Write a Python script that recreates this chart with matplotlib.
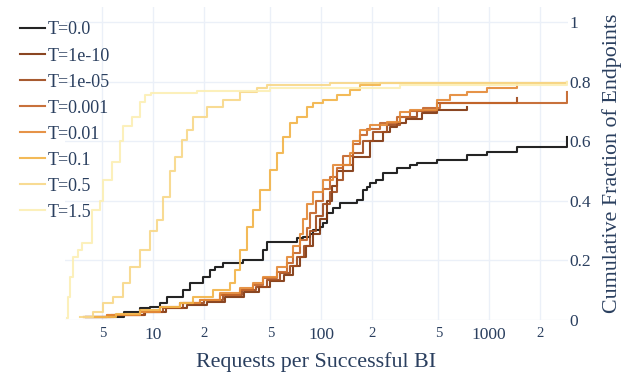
import matplotlib
matplotlib.use('Agg')
import matplotlib.pyplot as plt
from matplotlib.ticker import FixedLocator, FixedFormatter

plt.rcParams['font.family'] = ['Liberation Serif', 'DejaVu Serif']

TXT = '#2a3f5f'
GRID = '#ebf0f8'

labels = ['T=0.0', 'T=1e-10', 'T=1e-05', 'T=0.001', 'T=0.01', 'T=0.1', 'T=0.5', 'T=1.5']
colors = ['#111111', '#80360f', '#a04c1e', '#c4652a', '#e48a38', '#f2b44a', '#f8d88a', '#fcefb5']

x_t0 = [4.0, 6.7, 8.4, 9.6, 11.0, 12.1, 15.1, 16.6, 19.9, 21.8, 23.4, 26.2, 34.5, 45.4, 47.5,
        71.7, 78.5, 86, 90, 98.6, 103, 108, 118, 130, 163, 179, 187, 196, 214, 235, 282, 339,
        371, 489, 737, 969, 1462, 2900]
y_t0 = [0.011, 0.028, 0.039, 0.045, 0.056, 0.078, 0.10, 0.123, 0.145, 0.168, 0.179, 0.19, 0.20,
        0.235, 0.263, 0.274, 0.28, 0.29, 0.302, 0.313, 0.324, 0.358, 0.375, 0.392, 0.403, 0.436,
        0.447, 0.459, 0.47, 0.492, 0.509, 0.52, 0.526, 0.537, 0.554, 0.565, 0.582, 0.615]

x_t1e10 = [4.0, 5.9, 9.0, 12, 16, 21, 27, 35, 43, 50, 60, 68, 75, 82, 90, 98.6, 108, 116, 124,
           156, 196, 235, 258, 282, 320, 400, 489, 740]
y_t1e10 = [0.011, 0.017, 0.028, 0.04, 0.05, 0.062, 0.078, 0.095, 0.11, 0.13, 0.15, 0.18, 0.21,
           0.25, 0.29, 0.34, 0.40, 0.45, 0.50, 0.548, 0.60, 0.632, 0.649, 0.66, 0.676, 0.693,
           0.705, 0.716]

x_t1e5 = [4.0, 5.6, 8.8, 11.5, 15, 20, 26, 34, 41, 48, 57, 65, 72, 79, 86, 94, 103, 113, 124,
          136, 156, 179, 205, 246, 295, 371, 489, 1462]
y_t1e5 = [0.011, 0.017, 0.028, 0.04, 0.056, 0.067, 0.084, 0.10, 0.112, 0.134, 0.157, 0.18,
          0.21, 0.25, 0.30, 0.35, 0.39, 0.43, 0.47, 0.52, 0.56, 0.60, 0.63, 0.655, 0.68, 0.70,
          0.727, 0.745]

x_t1e3 = [3.9, 5.3, 8.4, 11.0, 14.5, 19.0, 25.0, 32.9, 39.5, 45.4, 54.5, 62.5, 68.4, 75.0,
          82.2, 86, 94, 103, 113, 124, 136, 156, 171, 187, 224, 282, 339, 407, 511, 2900]
y_t1e3 = [0.011, 0.017, 0.028, 0.045, 0.056, 0.067, 0.084, 0.10, 0.117, 0.14, 0.162, 0.19,
          0.224, 0.27, 0.31, 0.36, 0.40, 0.44, 0.48, 0.51, 0.55, 0.59, 0.62, 0.64, 0.66, 0.68,
          0.70, 0.71, 0.727, 0.766]

x_t1e2 = [3.9, 5.3, 8.4, 11.0, 14.5, 19.0, 25.0, 32.9, 39.5, 45.4, 54.5, 62.5, 68.4, 75.0,
          78.5, 82.2, 90.0, 103, 118, 149, 156, 171, 196, 246, 295, 339, 489, 586, 737, 969, 1462]
y_t1e2 = [0.011, 0.017, 0.028, 0.045, 0.056, 0.067, 0.089, 0.106, 0.123, 0.145, 0.179, 0.21,
          0.25, 0.29, 0.34, 0.39, 0.43, 0.47, 0.52, 0.56, 0.60, 0.638, 0.654, 0.665, 0.699,
          0.705, 0.738, 0.755, 0.766, 0.777, 0.794]

x_t1e1 = [3.9, 6.0, 8.4, 11.0, 14.5, 17.4, 22.9, 28.7, 30.8, 32.9, 36.1, 39.5, 43.4, 49.7,
          54.5, 59.7, 65.4, 71.7, 82.2, 90, 103, 124, 149, 171, 224, 2900]
y_t1e1 = [0.011, 0.02, 0.034, 0.045, 0.056, 0.078, 0.10, 0.123, 0.168, 0.235, 0.313, 0.369,
          0.436, 0.503, 0.559, 0.615, 0.66, 0.682, 0.716, 0.727, 0.738, 0.755, 0.772, 0.789,
          0.794, 0.80]

x_t05 = [3.67, 4.42, 5.06, 5.80, 6.66, 7.30, 8.37, 9.6, 10.5, 11.5, 12.6, 13.5, 14.8, 15.9,
         17.4, 20.9, 26.2, 32.9, 41.4, 47.5, 113, 2900]
y_t05 = [0.011, 0.028, 0.056, 0.078, 0.123, 0.179, 0.235, 0.30, 0.336, 0.414, 0.50, 0.548,
         0.604, 0.638, 0.682, 0.716, 0.738, 0.766, 0.777, 0.789, 0.795, 0.80]

x_t15 = [3.06, 3.13, 3.21, 3.36, 3.59, 3.77, 4.32, 4.84, 5.04, 5.67, 6.37, 6.63, 7.46, 8.37,
         8.96, 9.8, 18.3, 49.7, 295, 2900]
y_t15 = [0.007, 0.078, 0.145, 0.21, 0.235, 0.26, 0.37, 0.40, 0.47, 0.53, 0.60, 0.65, 0.68,
         0.73, 0.755, 0.762, 0.77, 0.78, 0.79, 0.80]

series = [(x_t0, y_t0), (x_t1e10, y_t1e10), (x_t1e5, y_t1e5), (x_t1e3, y_t1e3),
          (x_t1e2, y_t1e2), (x_t1e1, y_t1e1), (x_t05, y_t05), (x_t15, y_t15)]

W, H = 636, 380
fig = plt.figure(figsize=(W / 100, H / 100), dpi=100)
L, R, T, B = 65.1, 567.9, 7.1, 320.0
ax = fig.add_axes([L / W, 1 - B / H, (R - L) / W, (B - T) / H])

for (xs, ys), c, lab in zip(series, colors, labels):
    ax.plot(xs, ys, drawstyle='steps-post', color=c, lw=1.5, label=lab, alpha=0.92)

ax.set_xscale('log')
ax.set_xlim(3.0, 2950)
ax.set_ylim(0, 1.05)

ax.xaxis.set_major_locator(FixedLocator([10, 100, 1000]))
ax.xaxis.set_major_formatter(FixedFormatter(['10', '100', '1000']))
ax.xaxis.set_minor_locator(FixedLocator([5, 20, 50, 200, 500, 2000]))
ax.xaxis.set_minor_formatter(FixedFormatter(['5', '2', '5', '2', '5', '2']))
ax.tick_params(axis='x', which='major', length=0, labelsize=12.5, pad=5, labelcolor=TXT)
ax.tick_params(axis='x', which='minor', length=0, labelsize=10.5, pad=5, labelcolor=TXT)
ax.grid(True, which='both', axis='x', color=GRID, lw=1)

ax.yaxis.tick_right()
ax.set_yticks([0, 0.2, 0.4, 0.6, 0.8, 1.0])
ax.set_yticklabels(['0', '0.2', '0.4', '0.6', '0.8', '1'])
ax.tick_params(axis='y', length=0, labelsize=12.5, pad=1, labelcolor=TXT)
ax.grid(True, axis='y', color=GRID, lw=1)
for s in ax.spines.values():
    s.set_visible(False)
ax.set_axisbelow(True)

fig.text(316.5 / W, 1 - 362 / H, 'Requests per Successful BI', ha='center', va='center',
         fontsize=15.8, color=TXT)
fig.text(612 / W, 1 - 163.5 / H, 'Cumulative Fraction of Endpoints', ha='center', va='center',
         rotation=90, fontsize=15.8, color=TXT)

leg = fig.legend(loc='upper left', bbox_to_anchor=(20 / W, 1 - 21.5 / H), frameon=False,
                 fontsize=13, handlelength=1.4, handletextpad=0.15, labelspacing=0.5,
                 borderpad=0, borderaxespad=0)
for t in leg.get_texts():
    t.set_color(TXT)

fig.savefig('out.png', dpi=100)
